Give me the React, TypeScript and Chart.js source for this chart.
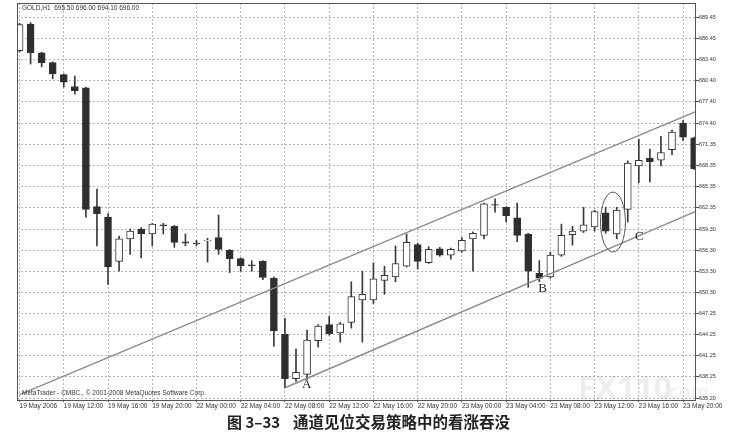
import { useEffect, useRef } from 'react';
import { Chart, registerables } from 'chart.js';

Chart.register(...registerables);

// GOLD H1, 19 May 2006 08:00 .. 23 May 2006 21:00 (one entry per hourly bar)
const opens = [
  684.7, 688.5, 684.4, 683.0, 681.3, 679.6, 679.4, 662.5, 661.0, 654.7,
  657.9, 659.3, 658.6, 659.9, 659.7, 657.5, 657.3, 657.6, 658.1, 656.3,
  655.1, 654.2, 654.7, 652.3, 644.3, 638.0, 638.6, 643.4, 645.7, 644.5,
  646.0, 649.2, 649.2, 652.0, 652.5, 654.0, 657.1, 654.5, 656.5, 655.6,
  656.2, 657.9, 658.4, 662.8, 662.4, 660.9, 658.6, 653.0, 652.5, 655.6,
  658.5, 659.0, 659.6, 661.6, 658.6, 662.1, 668.3, 669.4, 669.1, 670.6,
  674.4, 672.3,
];
const highs = [
  688.6, 688.7, 684.5, 683.1, 681.4, 681.1, 679.5, 665.0, 661.5, 658.3,
  659.3, 659.5, 660.1, 660.1, 659.8, 658.6, 657.7, 658.0, 661.3, 656.4,
  655.2, 654.8, 654.8, 652.5, 646.6, 642.2, 644.9, 645.7, 646.9, 646.0,
  651.8, 653.3, 654.5, 654.0, 656.9, 658.6, 657.3, 656.8, 656.7, 656.6,
  658.1, 658.9, 663.0, 663.6, 662.5, 663.0, 658.7, 654.8, 656.0, 660.0,
  659.7, 662.4, 662.0, 662.4, 662.4, 669.0, 672.1, 670.7, 672.5, 673.4,
  674.8, 672.4,
];
const lows = [
  684.5, 682.8, 682.4, 680.7, 679.5, 678.5, 661.0, 656.9, 651.4, 653.3,
  655.7, 655.2, 656.9, 658.6, 656.7, 656.9, 656.9, 654.6, 655.7, 653.1,
  653.3, 653.3, 652.1, 642.6, 636.7, 637.6, 637.9, 642.5, 644.2, 643.2,
  645.2, 643.2, 648.7, 650.0, 651.8, 653.9, 653.6, 654.4, 655.4, 655.0,
  656.0, 653.3, 657.9, 661.7, 660.3, 657.5, 651.0, 651.8, 652.3, 655.4,
  657.0, 658.8, 659.0, 658.7, 657.9, 660.3, 665.9, 666.0, 668.3, 669.9,
  671.9, 667.8,
];
const closes = [
  688.4, 684.4, 683.0, 681.4, 680.2, 679.0, 662.1, 661.5, 653.9, 657.9,
  659.0, 658.6, 660.0, 659.8, 657.4, 657.3, 657.2, 657.7, 656.4, 655.1,
  654.1, 654.1, 652.4, 644.8, 638.0, 638.9, 643.5, 645.5, 644.4, 645.8,
  649.7, 650.0, 652.2, 652.7, 654.4, 657.4, 654.7, 656.4, 655.6, 656.4,
  657.7, 658.7, 662.9, 662.7, 661.2, 658.4, 653.3, 652.3, 655.6, 658.4,
  659.0, 659.9, 661.8, 659.0, 662.0, 668.7, 669.1, 668.9, 670.2, 673.1,
  672.4, 667.9,
];

const xTickLabels = [
  '19 May 2006', '19 May 12:00', '19 May 16:00', '19 May 20:00',
  '22 May 00:00', '22 May 04:00', '22 May 08:00', '22 May 12:00',
  '22 May 16:00', '22 May 20:00', '23 May 00:00', '23 May 04:00',
  '23 May 08:00', '23 May 12:00', '23 May 16:00', '23 May 20:00',
];
const yTickValues = [
  689.45, 686.45, 683.4, 680.4, 677.4, 674.4, 671.35, 668.35, 665.35, 662.35,
  659.3, 656.3, 653.3, 650.3, 647.25, 644.25, 641.25, 638.25, 635.2,
];

// channel lines (bar index, price)
const upperChannel = [{ x: 0, y: 635.74 }, { x: 61.2, y: 676.05 }];
const lowerChannel = [{ x: 24.07, y: 636.74 }, { x: 61.2, y: 661.87 }];

const pointLabels = [
  { text: 'A', x: 25.97, y: 637.1 },
  { text: 'B', x: 47.3, y: 650.86 },
  { text: 'C', x: 56.05, y: 658.21 },
];
const engulfRing = { x: 53.66, y: 660.3, rx: 1.13, ry: 4.27 };

const headerText = 'GOLD,H1  695.50 696.00 694.10 696.00';
const copyrightText = 'MetaTrader - CMBC., © 2001-2008 MetaQuotes Software Corp.';
const captionNo = '图 3–33';
const captionText = '通道见位交易策略中的看涨吞没';

const decorPlugin = {
  id: 'decor',
  afterDatasetsDraw(chart: any) {
    const { ctx, chartArea, scales } = chart;
    const xs = scales.x;
    const ys = scales.y;
    ctx.save();
    // frame
    ctx.strokeStyle = '#555';
    ctx.lineWidth = 1;
    ctx.strokeRect(chartArea.left + 0.5, chartArea.top + 0.5, chartArea.width - 1, chartArea.height);

    // watermark
    ctx.fillStyle = 'rgba(0,0,0,0.07)';
    ctx.textBaseline = 'alphabetic';
    ctx.font = 'bold 32px "Open Sans"';
    ctx.fillText('FX110', 578, 399);
    ctx.font = '20px "Open Sans"';
    ctx.fillText('.com', 664, 399);

    ctx.fillStyle = '#333';
    ctx.font = '6.5px "Liberation Sans"';
    ctx.textBaseline = 'middle';
    ctx.fillText(headerText, chartArea.left + 5, chartArea.top + 5);
    ctx.fillText(copyrightText, chartArea.left + 5, 393.5);

    // circle round the engulfing pair
    const cx = xs.getPixelForValue(engulfRing.x);
    const cy = ys.getPixelForValue(engulfRing.y);
    const rx = xs.getPixelForValue(engulfRing.x + engulfRing.rx) - cx;
    const ry = cy - ys.getPixelForValue(engulfRing.y + engulfRing.ry);
    ctx.beginPath();
    ctx.ellipse(cx, cy, rx, ry, 0, 0, Math.PI * 2);
    ctx.strokeStyle = '#555';
    ctx.lineWidth = 1;
    ctx.stroke();

    ctx.fillStyle = '#222';
    ctx.font = '13px "Liberation Serif"';
    ctx.textAlign = 'center';
    for (const p of pointLabels) {
      ctx.fillText(p.text, xs.getPixelForValue(p.x), ys.getPixelForValue(p.y));
    }
    ctx.restore();
  },
  afterDraw(chart: any) {
    const { ctx } = chart;
    ctx.save();
    ctx.fillStyle = '#222';
    ctx.textBaseline = 'middle';
    ctx.font = 'bold 15px "Noto Sans CJK SC"';
    ctx.fillText(captionNo, 227, 422);
    ctx.font = 'bold 15.5px "Noto Sans CJK SC"';
    ctx.fillText(captionText, 293, 422);
    ctx.restore();
  },
};

export default function App() {
  const canvasRef = useRef<HTMLCanvasElement>(null);
  const chartRef = useRef<Chart | null>(null);

  useEffect(() => {
    document.body.style.margin = '0';
    document.body.style.background = '#fff';
    if (!canvasRef.current) return;
    const ctx = canvasRef.current.getContext('2d');
    if (!ctx) return;
    if (chartRef.current) chartRef.current.destroy();

    const isUp = (i: number) => closes[i] >= opens[i];

    chartRef.current = new Chart(ctx, {
      type: 'bar',
      data: {
        datasets: [
          {
            type: 'line',
            data: upperChannel,
            borderColor: '#8c8c8c',
            borderWidth: 1.4,
            pointRadius: 0,
            order: 0,
          },
          {
            type: 'line',
            data: lowerChannel,
            borderColor: '#8c8c8c',
            borderWidth: 1.4,
            pointRadius: 0,
            order: 0,
          },
          {
            data: opens.map((o, i) => ({ x: i, y: [o, closes[i]] })),
            backgroundColor: (c: any) => (isUp(c.dataIndex) ? '#ffffff' : '#2e2e2e'),
            borderColor: '#333',
            borderWidth: 1,
            borderSkipped: false,
            barThickness: 7,
            grouped: false,
            order: 1,
          },
          {
            data: lows.map((l, i) => ({ x: i, y: [l, highs[i]] })),
            backgroundColor: '#3a3a3a',
            borderWidth: 0,
            barThickness: 1,
            grouped: false,
            order: 2,
          },
        ] as any,
      },
      options: {
        animation: false,
        responsive: false,
        layout: { padding: { left: 17, top: 3, right: 0, bottom: 0 } },
        plugins: {
          legend: { display: false },
          tooltip: { enabled: false },
        },
        scales: {
          x: {
            type: 'linear',
            min: -0.23,
            max: 61.17,
            offset: false,
            afterBuildTicks: (s: any) => {
              s.ticks = xTickLabels.map((_, i) => ({ value: i * 4 }));
            },
            afterFit: (s: any) => {
              s.height = 35;
              s.paddingLeft = 0;
              s.paddingRight = 0;
            },
            ticks: {
              autoSkip: false,
              maxRotation: 0,
              align: 'start',
              padding: 0,
              color: '#333',
              font: { family: '"Liberation Sans"', size: 6.5 },
              callback: (_v: any, i: number) => xTickLabels[i],
            },
            grid: {
              offset: false,
              color: '#b5b5b5',
              lineWidth: 1,
              tickLength: 2,
              tickColor: '#555',
              tickBorderDash: [],
            },
            border: { display: false, dash: [2, 2] },
          },
          y: {
            type: 'linear',
            position: 'right',
            min: 634.96,
            max: 691.49,
            afterBuildTicks: (s: any) => {
              s.ticks = yTickValues.map((v) => ({ value: v }));
            },
            afterFit: (s: any) => {
              s.width = 33;
              s.paddingTop = 0;
              s.paddingBottom = 0;
            },
            ticks: {
              padding: 0,
              color: '#333',
              font: { family: '"Liberation Sans"', size: 5.5 },
              callback: (v: any) => Number(v).toFixed(2),
            },
            grid: {
              color: '#b5b5b5',
              lineWidth: 1,
              tickLength: 3,
              tickColor: '#555',
              tickBorderDash: [],
            },
            border: { display: false, dash: [2, 2] },
          },
        },
      } as any,
      plugins: [decorPlugin],
    });

    return () => {
      if (chartRef.current) {
        chartRef.current.destroy();
        chartRef.current = null;
      }
    };
  }, []);

  return (
    <div style={{ width: 729, height: 435 }}>
      <canvas ref={canvasRef} width={729} height={435} style={{ display: 'block' }} />
    </div>
  );
}
